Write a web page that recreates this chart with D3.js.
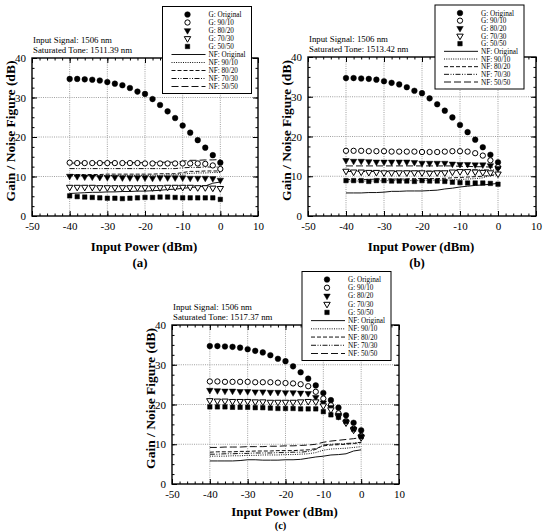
<!DOCTYPE html>
<html>
<head>
<meta charset="utf-8">
<script src="https://cdn.jsdelivr.net/npm/d3@7"></script>
<style>
  body { margin: 0; background: #fff; }
  text { font-family: "Liberation Serif", "Times New Roman", serif; fill: #000; }
</style>
</head>
<body>
<svg id="fig" width="543" height="532"></svg>
<script>
// ---- data ----
const inputPower = [-40, -38, -36, -34, -32, -30, -28, -26, -24, -22, -20, -18, -16, -14, -12, -10, -8, -6, -4, -2, 0];
const xTicks = [-50, -40, -30, -20, -10, 0, 10];
const yTicks = [0, 10, 20, 30, 40];
const seriesNames = ['G: Original', 'G: 90/10', 'G: 80/20', 'G: 70/30', 'G: 50/50',
                     'NF: Original', 'NF: 90/10', 'NF: 80/20', 'NF: 70/30', 'NF: 50/50'];
const panelTags = ['(a)', '(b)', '(c)'];
const saturatedTones = ['1511.39', '1513.42', '1517.37'];

const gainOriginal = [34.7, 34.7, 34.6, 34.5, 34.3, 33.9, 33.5, 33.1, 32.4, 31.5, 30.9, 29.6, 28.1, 26.5, 24.8, 22.9, 21.1, 19.2, 17.3, 15.4, 13.5];

// panel (a)
const gain9010A = [13.5, 13.4, 13.4, 13.4, 13.4, 13.4, 13.4, 13.4, 13.4, 13.4, 13.3, 13.3, 13.3, 13.3, 13.3, 13.3, 13.3, 13.3, 13.2, 12.8, 11.9];
const gain8020A = [10.1, 10.0, 9.9, 9.9, 9.8, 9.8, 9.8, 9.7, 9.7, 9.7, 9.7, 9.6, 9.7, 9.7, 9.7, 9.7, 9.6, 9.6, 9.6, 9.5, 9.1];
const gain7030A = [7.3, 7.3, 7.3, 7.3, 7.2, 7.2, 7.2, 7.2, 7.2, 7.2, 7.2, 7.2, 7.2, 7.3, 7.3, 7.3, 7.3, 7.2, 7.2, 7.1, 7.0];
const gain5050A = [5.1, 4.9, 4.8, 4.7, 4.6, 4.5, 4.5, 4.4, 4.5, 4.6, 4.7, 4.7, 4.8, 4.8, 4.7, 4.6, 4.6, 4.6, 4.6, 4.6, 4.2];
const nfOriginalA = [5.7, 5.8, 5.9, 6.0, 6.0, 6.1, 6.1, 6.2, 6.2, 6.3, 6.3, 6.4, 6.5, 6.7, 6.8, 7.0, 7.2, 7.4, 7.6, 8.3, 8.6];
const nf9010A = [10.2, 10.2, 10.2, 10.2, 10.2, 10.2, 10.3, 10.3, 10.3, 10.3, 10.3, 10.3, 10.3, 10.4, 10.4, 10.6, 10.8, 10.9, 10.9, 11.0, 11.0];
const nf8020A = [10.5, 10.5, 10.5, 10.5, 10.5, 10.6, 10.6, 10.6, 10.6, 10.6, 10.6, 10.6, 10.7, 10.7, 10.7, 11.0, 11.3, 11.3, 11.4, 11.4, 11.4];
const nf7030A = [12.0, 12.0, 12.0, 12.0, 12.0, 12.0, 12.0, 12.0, 12.0, 12.0, 12.0, 12.0, 12.0, 12.0, 12.0, 12.2, 12.3, 12.3, 12.4, 12.4, 12.4];
const nf5050A = [13.4, 13.4, 13.4, 13.4, 13.5, 13.5, 13.5, 13.5, 13.5, 13.5, 13.5, 13.5, 13.6, 13.6, 13.6, 13.9, 14.1, 14.1, 14.2, 14.2, 14.3];

// panel (b)
const gain9010B = [16.4, 16.4, 16.4, 16.3, 16.3, 16.3, 16.2, 16.2, 16.2, 16.2, 16.1, 16.1, 16.1, 16.2, 16.3, 16.3, 16.2, 15.8, 15.2, 14.0, 12.3];
const gain8020B = [14.0, 13.8, 13.8, 13.7, 13.6, 13.6, 13.6, 13.6, 13.6, 13.5, 13.3, 13.3, 13.3, 13.3, 13.1, 13.0, 13.0, 12.9, 12.9, 12.7, 12.0];
const gain7030B = [11.3, 11.1, 11.1, 11.0, 11.0, 10.9, 10.9, 10.9, 10.9, 10.9, 10.9, 10.8, 10.9, 10.9, 11.1, 11.2, 11.2, 11.1, 11.0, 10.9, 10.6];
const gain5050B = [8.9, 8.9, 8.9, 8.7, 8.9, 8.9, 8.8, 8.8, 8.8, 8.7, 8.9, 8.8, 8.8, 8.7, 8.5, 8.4, 8.3, 8.3, 8.3, 8.2, 8.0];
const nfOriginalB = [5.8, 5.8, 5.8, 5.9, 5.9, 6.0, 6.2, 6.2, 6.3, 6.3, 6.3, 6.4, 6.5, 6.8, 7.0, 7.3, 7.5, 7.7, 7.8, 8.0, 8.2];
const nf9010B = [8.8, 8.8, 8.8, 8.8, 8.8, 8.9, 8.9, 8.9, 8.9, 8.9, 8.9, 9.0, 9.0, 9.0, 9.1, 9.2, 9.3, 9.4, 9.6, 10.2, 10.8];
const nf8020B = [9.2, 9.2, 9.2, 9.2, 9.3, 9.3, 9.3, 9.3, 9.3, 9.4, 9.4, 9.4, 9.4, 9.5, 9.6, 9.7, 9.8, 9.9, 10.0, 10.2, 10.3];
const nf7030B = [11.2, 11.2, 11.2, 11.2, 11.2, 11.2, 11.2, 11.2, 11.3, 11.3, 11.3, 11.3, 11.3, 11.3, 11.4, 11.5, 11.6, 11.6, 11.6, 11.6, 11.6];
const nf5050B = [12.6, 12.6, 12.6, 12.6, 12.6, 12.6, 12.6, 12.6, 12.6, 12.6, 12.6, 12.6, 12.6, 12.6, 12.6, 12.5, 12.5, 12.4, 12.4, 12.3, 12.3];

// panel (c)
const gain9010C = [25.8, 25.8, 25.7, 25.7, 25.7, 25.7, 25.6, 25.6, 25.6, 25.5, 25.4, 25.3, 25.1, 24.6, 23.2, 21.5, 19.8, 17.8, 15.8, 13.9, 12.1];
const gain8020C = [23.6, 23.5, 23.4, 23.4, 23.3, 23.3, 23.2, 23.2, 23.1, 23.1, 23.0, 23.0, 22.9, 22.8, 21.8, 20.4, 19.3, 17.3, 15.6, 13.8, 11.9];
const gain7030C = [21.0, 20.9, 20.9, 20.8, 20.8, 20.8, 20.7, 20.7, 20.6, 20.6, 20.6, 20.6, 20.7, 20.8, 20.7, 19.7, 18.7, 17.0, 15.4, 13.6, 11.7];
const gain5050C = [19.4, 19.4, 19.4, 19.3, 19.3, 19.3, 19.2, 19.2, 19.1, 19.0, 19.0, 19.0, 18.9, 18.9, 18.9, 18.2, 17.4, 16.8, 15.7, 13.8, 11.9];
const nfOriginalC = [5.8, 5.8, 5.8, 5.8, 5.9, 6.1, 6.1, 6.0, 6.0, 6.0, 6.1, 6.1, 6.2, 6.5, 6.8, 7.0, 7.3, 7.4, 7.6, 8.3, 8.6];
const nf9010C = [7.0, 7.0, 7.0, 7.1, 7.1, 7.2, 7.2, 7.3, 7.3, 7.3, 7.4, 7.4, 7.5, 7.6, 7.9, 8.5, 8.8, 8.9, 9.0, 9.2, 9.4];
const nf8020C = [8.0, 8.1, 8.1, 8.1, 8.2, 8.2, 8.3, 8.3, 8.3, 8.4, 8.4, 8.4, 8.5, 8.6, 8.9, 9.6, 9.8, 9.9, 10.0, 10.2, 10.4];
const nf7030C = [7.5, 7.5, 7.6, 7.6, 7.7, 7.7, 7.8, 7.8, 7.8, 7.9, 7.9, 8.0, 8.0, 8.2, 8.7, 9.8, 10.0, 10.1, 10.2, 10.3, 10.5];
const nf5050C = [9.2, 9.2, 9.3, 9.3, 9.3, 9.4, 9.4, 9.4, 9.5, 9.5, 9.6, 9.6, 9.7, 9.8, 10.0, 10.5, 10.8, 11.0, 11.2, 11.4, 11.7];

// ---- styles per series ----
const markerStyles = [
  { type: d3.symbolCircle, size: 25, fill: '#000', rotate: 0 },
  { type: d3.symbolCircle, size: 22, fill: '#fff', rotate: 0 },
  { type: d3.symbolTriangle, size: 18, fill: '#000', rotate: 180 },
  { type: d3.symbolTriangle, size: 18, fill: '#fff', rotate: 180 },
  { type: d3.symbolSquare, size: 20, fill: '#000', rotate: 0 }
];
const lineDashes = ['none', '1,1.3', '4,2', '5,1.5,1,1.5,1,1.5', '7,3'];

const svg = d3.select('#fig');
const serif = '"Liberation Serif", "Times New Roman", serif';

const panels = [
  { left: 32, right: 258, top: 58, bottom: 216, legend: [162.5, 6.5, 89, 87],
    labelY: 251, tagY: 267, tagSize: 12.8,
    gains: [gainOriginal, gain9010A, gain8020A, gain7030A, gain5050A],
    nfs: [nfOriginalA, nf9010A, nf8020A, nf7030A, nf5050A] },
  { left: 308, right: 536, top: 57, bottom: 216, legend: [435, 5, 89, 84],
    labelY: 251, tagY: 267, tagSize: 12.8,
    gains: [gainOriginal, gain9010B, gain8020B, gain7030B, gain5050B],
    nfs: [nfOriginalB, nf9010B, nf8020B, nf7030B, nf5050B] },
  { left: 172, right: 399, top: 325, bottom: 484, legend: [302, 271.5, 89, 89],
    labelY: 516, tagY: 529.3, tagSize: 10.5,
    gains: [gainOriginal, gain9010C, gain8020C, gain7030C, gain5050C],
    nfs: [nfOriginalC, nf9010C, nf8020C, nf7030C, nf5050C] }
];

function drawPanel(p, i) {
  const x = d3.scaleLinear().domain([-50, 10]).range([p.left, p.right]);
  const y = d3.scaleLinear().domain([0, 40]).range([p.bottom, p.top]);
  const g = svg.append('g');

  // dotted grid at inner major ticks
  g.append('g').selectAll('line').data(xTicks.slice(1, -1)).join('line')
    .attr('x1', d => x(d)).attr('x2', d => x(d))
    .attr('y1', p.top).attr('y2', p.bottom)
    .attr('stroke', '#888').attr('stroke-width', 0.8).attr('stroke-dasharray', '1,1.2');
  g.append('g').selectAll('line').data(yTicks.slice(1, -1)).join('line')
    .attr('x1', p.left).attr('x2', p.right)
    .attr('y1', d => y(d)).attr('y2', d => y(d))
    .attr('stroke', '#888').attr('stroke-width', 0.8).attr('stroke-dasharray', '1,1.2');

  // noise figure lines
  const line = d3.line().x((d, k) => x(inputPower[k])).y(d => y(d));
  p.nfs.forEach((s, k) => {
    g.append('path').datum(s)
      .attr('d', line)
      .attr('fill', 'none')
      .attr('stroke', '#111')
      .attr('stroke-width', 1)
      .attr('stroke-dasharray', lineDashes[k]);
  });

  // gain markers
  p.gains.forEach((s, k) => {
    const m = markerStyles[k];
    const sym = d3.symbol().type(m.type).size(m.size);
    g.append('g').selectAll('path').data(s).join('path')
      .attr('d', sym)
      .attr('transform', (d, j) => `translate(${x(inputPower[j])},${y(d)}) rotate(${m.rotate})`)
      .attr('fill', m.fill)
      .attr('stroke', '#000')
      .attr('stroke-width', m.fill === '#fff' ? 1 : 0.5);
  });

  // ticks on all four sides, pointing inward
  const xMinor = d3.range(-50, 10.01, 2);
  const yMinor = d3.range(0, 40.01, 2.5);
  const fmt = d => String(d);
  const axes = [
    [d3.axisBottom(x), `translate(0,${p.bottom})`, xTicks, xMinor, true],
    [d3.axisTop(x), `translate(0,${p.top})`, xTicks, xMinor, false],
    [d3.axisLeft(y), `translate(${p.left},0)`, yTicks, yMinor, true],
    [d3.axisRight(y), `translate(${p.right},0)`, yTicks, yMinor, false]
  ];
  axes.forEach(([ax, tr, major, minor, labelled]) => {
    g.append('g').attr('transform', tr)
      .call(ax.tickValues(minor).tickSize(-2.5).tickFormat(''))
      .call(a => a.select('.domain').remove())
      .selectAll('line').attr('stroke', '#000');
    const ga = g.append('g').attr('transform', tr)
      .call(ax.tickValues(major).tickSize(-5).tickPadding(labelled ? 6 : 0)
        .tickFormat(labelled ? fmt : ''))
      .call(a => a.select('.domain').remove());
    ga.attr('font-family', serif);
    ga.selectAll('line').attr('stroke', '#000');
    ga.selectAll('text')
      .style('font-family', serif)
      .style('font-size', '11px')
      .attr('fill', '#000');
  });

  // frame
  g.append('rect')
    .attr('x', p.left).attr('y', p.top)
    .attr('width', p.right - p.left).attr('height', p.bottom - p.top)
    .attr('fill', 'none').attr('stroke', '#000').attr('stroke-width', 1.4);

  // annotation
  g.append('text').attr('x', p.left + 1).attr('y', p.top - 15)
    .style('font-size', '8.8px').text('Input Signal: 1506 nm');
  g.append('text').attr('x', p.left + 1).attr('y', p.top - 5)
    .style('font-size', '8.8px').text(`Saturated Tone: ${saturatedTones[i]} nm`);

  // axis titles
  const cx = (p.left + p.right) / 2;
  g.append('text')
    .attr('transform', `translate(${p.left - 17},${(p.top + p.bottom) / 2 - 6}) rotate(-90)`)
    .attr('text-anchor', 'middle')
    .style('font-size', '13.5px').style('font-weight', 'bold')
    .text('Gain / Noise Figure (dB)');
  g.append('text')
    .attr('x', cx - 1).attr('y', p.labelY)
    .attr('text-anchor', 'middle')
    .style('font-size', '12.8px').style('font-weight', 'bold')
    .text('Input Power (dBm)');
  g.append('text')
    .attr('x', cx - 5).attr('y', p.tagY)
    .attr('text-anchor', 'middle')
    .style('font-size', `${p.tagSize}px`).style('font-weight', 'bold')
    .text(panelTags[i]);

  // legend
  const [lx, ly, lw, lh] = p.legend;
  const lg = g.append('g');
  lg.append('rect').attr('x', lx).attr('y', ly).attr('width', lw).attr('height', lh)
    .attr('fill', '#fff').attr('stroke', '#000').attr('stroke-width', 1);
  const rowY = k => ly + 8 + k * (lh - 15) / 9;
  seriesNames.forEach((name, k) => {
    if (k < 5) {
      const m = markerStyles[k];
      lg.append('path')
        .attr('d', d3.symbol().type(m.type).size(m.size)())
        .attr('transform', `translate(${lx + 25},${rowY(k)}) rotate(${m.rotate})`)
        .attr('fill', m.fill).attr('stroke', '#000')
        .attr('stroke-width', m.fill === '#fff' ? 1 : 0.5);
    } else {
      lg.append('line')
        .attr('x1', lx + 9).attr('x2', lx + 43)
        .attr('y1', rowY(k)).attr('y2', rowY(k))
        .attr('stroke', '#111').attr('stroke-width', 1)
        .attr('stroke-dasharray', lineDashes[k - 5]);
    }
    lg.append('text').attr('x', lx + 46).attr('y', rowY(k) + 2.5)
      .attr('text-anchor', 'start')
      .style('font-size', '7.2px').text(name);
  });
}

panels.forEach(drawPanel);
</script>
</body>
</html>
